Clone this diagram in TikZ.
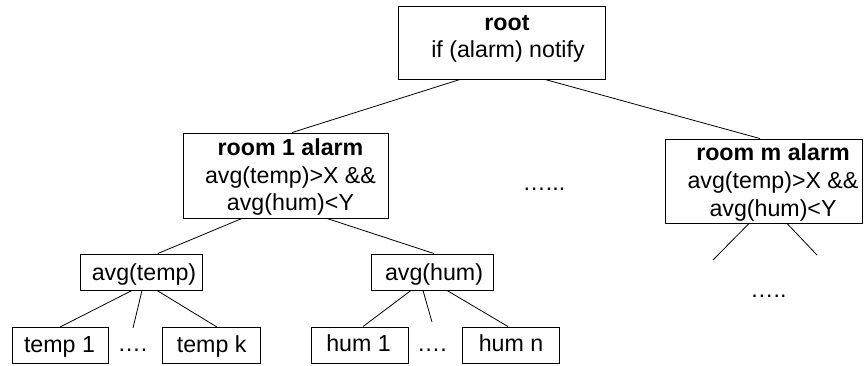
\documentclass[tikz,border=0pt]{standalone}
\usepackage{fontspec}
\setmainfont{Liberation Sans}
\begin{document}
\begin{tikzpicture}[x=1pt,y=-1pt,
  font=\fontsize{23.2}{27.5}\selectfont,
  box/.style={draw, line width=0.9pt, inner sep=0pt},
  txt/.style={anchor=base, inner sep=0pt},
  link/.style={line width=0.8pt}]
\useasboundingbox (0,0) rectangle (864,365);

% boxes
\node[box, minimum width=207pt, minimum height=73pt] (root)  at (501.5,42.5) {};
\node[box, minimum width=205pt, minimum height=85pt] (room1) at (285.5,175.5) {};
\node[box, minimum width=197pt, minimum height=84pt] (roomm) at (764,181) {};
\node[box, minimum width=122pt, minimum height=36pt] (avgt)  at (141.7,272) {};
\node[box, minimum width=122pt, minimum height=36pt] (avgh)  at (432,272) {};
\node[box, minimum width=96pt,  minimum height=36pt] (t1)    at (60.5,345.5) {};
\node[box, minimum width=98pt,  minimum height=36pt] (tk)    at (211,345.5) {};
\node[box, minimum width=97pt,  minimum height=36pt] (h1)    at (359.5,345) {};
\node[box, minimum width=96.5pt,minimum height=36pt] (hn)    at (510.75,345) {};

% texts
\node[txt] (rootA) at (507,30)   {\bfseries root};
\node[txt] (rootB) at (508,57.5) {if (alarm) notify};
\node[txt] (r1A) at (290.5,155)   {\bfseries room 1 alarm};
\node[txt] (r1B) at (290.5,183.3) {avg(temp)>X \&\&};
\node[txt] (r1C) at (290.5,210.7) {avg(hum)<Y};
\node[txt] (rmA) at (773,160)   {\bfseries room m alarm};
\node[txt] (rmB) at (773,188.5) {avg(temp)>X \&\&};
\node[txt] (rmC) at (773,216)   {avg(hum)<Y};
\node[txt] (avgtT) at (144,280) {avg(temp)};
\node[txt] (avghT) at (434,280) {avg(hum)};
\node[txt] (t1T) at (59.5,352)  {temp 1};
\node[txt] (tkT) at (211.7,352) {temp k};
\node[txt] (h1T) at (358.5,351.5) {hum 1};
\node[txt] (hnT) at (511,351.5)   {hum n};
\node[txt] (dotsT)  at (132.5,351.5) {….};
\node[txt] (dotsH)  at (432,351.5)   {….};
\node[txt] (dotsM)  at (544,190)     {…...};
\node[txt] (dotsR)  at (768.5,297)   {…..};

% free ends
\coordinate (tmid) at (133,328);
\coordinate (hmid) at (432,322);
\coordinate (rmL)  at (713,260);
\coordinate (rmR)  at (817,255);

% connectors
\draw[link] ([xshift=-41.5pt]root.south) -- ([xshift=6.5pt]room1.north);
\draw[link] ([xshift=43.5pt]root.south)  -- ([xshift=-4pt]roomm.north);
\draw[link] ([xshift=-43.5pt]room1.south) -- ([xshift=16pt]avgt.north);
\draw[link] ([xshift=41.5pt]room1.south)  -- ([xshift=2pt]avgh.north);
\draw[link] ([xshift=-9.7pt]avgt.south) -- ([xshift=-0.5pt]t1.north);
\draw[link] ([xshift=0.3pt]avgt.south)  -- (tmid);
\draw[link] ([xshift=15.3pt]avgt.south) -- ([xshift=6pt]tk.north);
\draw[link] ([xshift=-21pt]avgh.south) -- ([xshift=3.5pt]h1.north);
\draw[link] ([xshift=-9pt]avgh.south)  -- (hmid);
\draw[link] ([xshift=15pt]avgh.south)  -- ([xshift=-2.75pt]hn.north);
\draw[link] ([xshift=-15pt]roomm.south) -- (rmL);
\draw[link] ([xshift=23pt]roomm.south)  -- (rmR);
\end{tikzpicture}
\end{document}
